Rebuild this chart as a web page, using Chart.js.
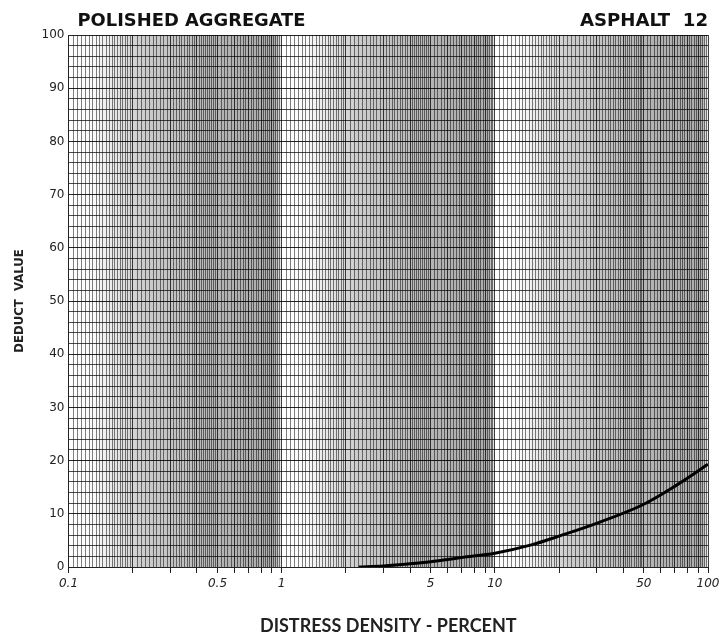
<!DOCTYPE html>
<html>
<head>
<meta charset="utf-8">
<script src="https://cdn.jsdelivr.net/npm/chart.js@4.4.1/dist/chart.umd.min.js"></script>
<style>
  html, body { margin: 0; padding: 0; background: #fff; }
  #wrap { width: 725px; height: 639px; }
</style>
</head>
<body>
<div id="wrap"><canvas id="c" width="725" height="639"></canvas></div>
<script>
// curve (distress density %, deduct value)
const density = [2.3, 3, 4, 5, 7, 10, 15, 20, 30, 50, 70, 100];
const deduct = [0, 0.2, 0.6, 1.0, 1.8, 2.6, 4.2, 5.8, 8.2, 11.8, 15.2, 19.3];
const xLabels = [0.1, 0.5, 1, 5, 10, 50, 100];
const decades = [0.1, 1, 10];
const titleLeft = 'POLISHED AGGREGATE';
const titleRight = 'ASPHALT  12';

// log paper vertical rulings (in hundredths of the decade start)
function logPaper() {
  let out = [];
  decades.forEach(d => {
    for (let k = 100; k < 200; k += 5) out.push(+(k * d / 100).toFixed(5));
    for (let k = 200; k < 500; k += 10) out.push(+(k * d / 100).toFixed(5));
    for (let k = 500; k < 1000; k += 20) out.push(+(k * d / 100).toFixed(5));
  });
  out.push(100);
  return out;
}
const paperLines = logPaper();

function isMajor(v) {
  let m = v / Math.pow(10, Math.floor(Math.log10(v) + 1e-9));
  return Math.abs(m - Math.round(m)) < 1e-6;
}

// grey shading of the scanned paper, darker toward the end of each decade
const shading = {
  id: 'shading',
  beforeDraw(chart) {
    const c = chart.ctx, a = chart.chartArea, xs = chart.scales.x;
    c.save();
    decades.forEach(d => {
      const x0 = xs.getPixelForValue(d), x1 = xs.getPixelForValue(d * 10);
      const g = c.createLinearGradient(x0, 0, x1, 0);
      g.addColorStop(0, 'rgba(0,0,0,0)');
      g.addColorStop(0.12, 'rgba(0,0,0,0.02)');
      g.addColorStop(0.35, 'rgba(0,0,0,0.2)');
      g.addColorStop(0.75, 'rgba(0,0,0,0.3)');
      g.addColorStop(0.97, 'rgba(0,0,0,0.32)');
      g.addColorStop(1, 'rgba(0,0,0,0.05)');
      c.fillStyle = g;
      c.fillRect(x0, a.top, x1 - x0, a.bottom - a.top);
    });
    c.restore();
  }
};

function fitText(c, text, x, y, width, align) {
  const w = c.measureText(text).width;
  c.save();
  c.translate(align === 'right' ? x - width : x, y);
  c.scale(width / w, 1);
  c.textAlign = 'left';
  c.fillText(text, 0, 0);
  c.restore();
}

const headings = {
  id: 'headings',
  afterDraw(chart) {
    const c = chart.ctx, a = chart.chartArea;
    c.save();
    c.fillStyle = '#111';
    c.font = 'bold 17px "DejaVu Sans Condensed", "Liberation Sans", sans-serif';
    c.textBaseline = 'alphabetic';
    fitText(c, titleLeft, a.left + 9, a.top - 9, 228, 'left');
    fitText(c, titleRight, a.right, a.top - 9, 128, 'right');
    c.restore();
  }
};

new Chart(document.getElementById('c'), {
  type: 'line',
  data: {
    datasets: [{
      data: density.map((x, i) => ({ x: x, y: deduct[i] })),
      borderColor: '#000',
      borderWidth: 3,
      pointRadius: 0,
      cubicInterpolationMode: 'monotone',
      fill: false
    }]
  },
  options: {
    responsive: false,
    animation: false,
    layout: { padding: { top: 35, right: 17, left: 12, bottom: 0 } },
    plugins: { legend: { display: false }, tooltip: { enabled: false } },
    scales: {
      x: {
        type: 'logarithmic',
        min: 0.1,
        max: 100,
        afterBuildTicks: s => { s.ticks = paperLines.map(v => ({ value: v })); },
        ticks: {
          autoSkip: false,
          maxRotation: 0,
          padding: 4,
          color: '#222',
          font: { family: 'DejaVu Sans', size: 12, style: 'italic' },
          callback: v => xLabels.some(l => Math.abs(l - v) < 1e-6) ? String(v) : ''
        },
        grid: {
          color: ctx => isMajor(ctx.tick.value) ? 'rgba(0,0,0,0.75)' : 'rgba(0,0,0,0.5)',
          tickColor: ctx => isMajor(ctx.tick.value) ? '#222' : 'rgba(0,0,0,0)',
          tickLength: 6,
          lineWidth: 1
        },
        border: { color: '#222', width: 1 },
        title: {
          display: true,
          text: 'DISTRESS DENSITY - PERCENT',
          color: '#222',
          font: { family: 'Lato', size: 18, weight: 'bold' },
          padding: { top: 20, bottom: 2 }
        }
      },
      y: {
        min: 0,
        max: 100,
        ticks: {
          stepSize: 2,
          autoSkip: false,
          padding: 4,
          color: '#222',
          font: { family: 'DejaVu Sans', size: 12 },
          callback: v => v % 10 === 0 ? String(v) : ''
        },
        grid: {
          color: ctx => ctx.tick.value % 10 === 0 ? 'rgba(0,0,0,0.85)' : 'rgba(0,0,0,0.7)',
          tickLength: 0,
          lineWidth: 1
        },
        border: { color: '#222', width: 1 },
        title: {
          display: true,
          text: 'DEDUCT  VALUE',
          color: '#222',
          font: { family: 'DejaVu Sans Condensed', size: 13, weight: 'bold' },
          padding: { top: 0, bottom: 10 }
        }
      }
    }
  },
  plugins: [shading, headings]
});
</script>
</body>
</html>
